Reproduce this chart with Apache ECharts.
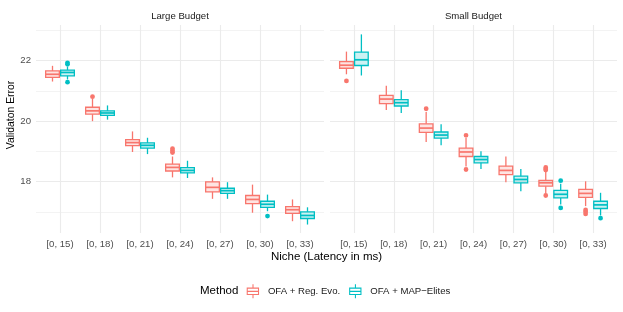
<!DOCTYPE html>
<html><head><meta charset="utf-8">
<script src="https://cdn.jsdelivr.net/npm/echarts@6/dist/echarts.min.js"></script>
<style>html,body{margin:0;padding:0;background:#fff}#c{width:623px;height:312px}</style>
</head><body><div id="c"></div>
<script>
const categories = ['[0, 15)','[0, 18)','[0, 21)','[0, 24)','[0, 27)','[0, 30)','[0, 33)'];
const panels = ['Large Budget','Small Budget'];
const methods = ['OFA + Reg. Evo.','OFA + MAP\u2212Elites'];
const colors = ['#F8766D','#00BFC4'];
const fills = ['rgba(248,118,109,0.2)','rgba(0,191,196,0.2)'];
const yTicks = [18,20,22];
const yMinor = [17,19,21,23];
const yMin = 16.3, yMax = 23.18;

// each row: [lower whisker, Q1, median, Q3, upper whisker]
const largeReg = [
  [21.31,21.45,21.55,21.66,21.83],
  [20.00,20.23,20.34,20.46,20.74],
  [18.98,19.19,19.29,19.39,19.66],
  [18.14,18.35,18.47,18.58,18.83],
  [17.43,17.66,17.81,17.99,18.14],
  [16.97,17.27,17.41,17.54,17.90],
  [16.69,16.95,17.07,17.17,17.41]
];
const largeMap = [
  [21.38,21.50,21.61,21.69,21.80],
  [20.05,20.19,20.27,20.34,20.52],
  [18.91,19.11,19.20,19.28,19.45],
  [18.12,18.29,18.37,18.46,18.69],
  [17.43,17.61,17.70,17.78,17.98],
  [17.02,17.15,17.25,17.35,17.57],
  [16.58,16.78,16.88,17.00,17.15]
];
const smallReg = [
  [21.55,21.75,21.85,21.97,22.30],
  [20.37,20.58,20.73,20.85,21.17],
  [19.31,19.63,19.77,19.91,20.30],
  [18.50,18.83,18.98,19.11,19.44],
  [17.98,18.23,18.37,18.51,18.83],
  [17.61,17.85,17.96,18.04,18.34],
  [17.19,17.48,17.61,17.74,18.01]
];
const smallMap = [
  [21.51,21.84,22.03,22.28,22.87],
  [20.27,20.50,20.61,20.71,21.02],
  [19.20,19.44,19.54,19.64,19.90],
  [18.42,18.62,18.73,18.83,19.00],
  [17.68,17.96,18.07,18.18,18.42],
  [17.24,17.46,17.58,17.71,17.93],
  [16.88,17.11,17.23,17.35,17.63]
];
// outliers: [category index, value]
const largeRegOut = [[1,20.81],[3,19.09],[3,19.02],[3,18.96]];
const largeMapOut = [[0,21.93],[0,21.88],[0,21.29],[5,16.86]];
const smallRegOut = [[0,21.33],[2,20.41],[3,19.53],[3,18.40],[5,18.47],[5,18.42],[5,18.38],[5,17.54],[6,17.06],[6,17.00],[6,16.93]];
const smallMapOut = [[5,18.03],[5,17.13],[6,16.79]];

const FONT = '"Liberation Sans", Arial, Helvetica, sans-serif';
const BOXW = 0.375;
const catIdx = categories.map((c,i)=>i);

function boxRender(color, fill, offset) {
  return function (params, api) {
    const x = api.value(0) + offset;
    const lo = api.coord([x, api.value(1)]);
    const q1 = api.coord([x, api.value(2)]);
    const md = api.coord([x, api.value(3)]);
    const q3 = api.coord([x, api.value(4)]);
    const hi = api.coord([x, api.value(5)]);
    const w = api.size([BOXW, 0])[0];
    const cx = md[0];
    const ls = {stroke: color, lineWidth: 1.3, fill: null};
    return {type: 'group', children: [
      {type: 'line', shape: {x1: cx, y1: q3[1], x2: cx, y2: hi[1]}, style: ls},
      {type: 'line', shape: {x1: cx, y1: q1[1], x2: cx, y2: lo[1]}, style: ls},
      {type: 'rect', shape: {x: cx - w/2 + 0.65, y: q3[1], width: w - 1.3, height: q1[1] - q3[1]},
        style: {fill: fill, stroke: color, lineWidth: 1.3}},
      {type: 'line', shape: {x1: cx - w/2 + 0.65, y1: md[1], x2: cx + w/2 - 0.65, y2: md[1]},
        style: {stroke: color, lineWidth: 1.7, fill: null}}
    ]};
  };
}
function outRender(color, offset) {
  return function (params, api) {
    const p = api.coord([api.value(0) + offset, api.value(1)]);
    return {type: 'circle', shape: {cx: p[0], cy: p[1], r: 2.4}, style: {fill: color}};
  };
}
function boxData(arr) { return arr.map((r, i) => [i].concat(r)); }

const boxSets = [[largeReg, largeMap], [smallReg, smallMap]];
const outSets = [[largeRegOut, largeMapOut], [smallRegOut, smallMapOut]];
const offsets = [-BOXW/2, BOXW/2];

const series = [];
for (let p = 0; p < 2; p++) {
  for (let m = 0; m < 2; m++) {
    series.push({
      type: 'custom', name: methods[m], xAxisIndex: p, yAxisIndex: p*2,
      itemStyle: {color: colors[m]},
      renderItem: boxRender(colors[m], fills[m], offsets[m]),
      encode: {x: 0, y: [1,2,3,4,5]},
      data: boxData(boxSets[p][m]), animation: false
    });
    series.push({
      type: 'custom', name: methods[m], xAxisIndex: p, yAxisIndex: p*2,
      itemStyle: {color: colors[m]},
      renderItem: outRender(colors[m], offsets[m]),
      encode: {x: 0, y: 1},
      data: outSets[p][m], animation: false
    });
  }
}

const grids = [
  {left: 36, top: 25, width: 288, height: 208},
  {left: 330, top: 25, width: 287, height: 208}
];
const xAxes = [0,1].map(p => ({
  gridIndex: p, type: 'value', min: -0.6, max: 6.6,
  axisLine: {show: false},
  axisTick: {show: false, customValues: catIdx},
  axisLabel: {customValues: catIdx, formatter: v => categories[Math.round(v)],
    color: '#4d4d4d', fontSize: 9.6, fontFamily: FONT, margin: 6},
  splitLine: {show: true, lineStyle: {color: '#ebebeb', width: 1.1}}
}));
const yAxes = [];
[0,1].forEach(p => {
  yAxes.push({
    gridIndex: p, type: 'value', min: yMin, max: yMax,
    axisLine: {show: false},
    axisTick: {show: false, customValues: yTicks},
    axisLabel: {show: p === 0, customValues: yTicks, color: '#4d4d4d', fontSize: 9.6, fontFamily: FONT, margin: 5},
    splitLine: {show: true, lineStyle: {color: '#ebebeb', width: 1.1}}
  });
  yAxes.push({
    gridIndex: p, type: 'value', min: yMin, max: yMax, position: 'left',
    axisLine: {show: false},
    axisTick: {show: false, customValues: yMinor},
    axisLabel: {show: false, customValues: yMinor},
    splitLine: {show: true, lineStyle: {color: '#f0f0f0', width: 0.8}}
  });
});

const iconPath = 'path://M70 0H83V40H70Z M0 40H150V130H0Z M13 53V117H137V53Z M13 79H137V92H13Z M70 130H83V170H70Z';

const option = {
  animation: false,
  backgroundColor: '#ffffff',
  grid: grids,
  xAxis: xAxes,
  yAxis: yAxes,
  legend: {
    left: 246.7, top: 284.3, padding: 0, itemWidth: 15, itemHeight: 14, itemGap: 9,
    data: methods.map((n, i) => ({name: n, icon: iconPath, itemStyle: {color: colors[i], borderWidth: 0}})),
    textStyle: {fontSize: 9.6, fontFamily: FONT, color: '#1a1a1a', padding: [0, 0, 0, 2.5]}
  },
  graphic: [
    {type: 'text', x: 180, y: 16, style: {text: panels[0], fontSize: 9.6, fontFamily: FONT, fill: '#1a1a1a', textAlign: 'center', textVerticalAlign: 'middle'}},
    {type: 'text', x: 473.5, y: 16, style: {text: panels[1], fontSize: 9.6, fontFamily: FONT, fill: '#1a1a1a', textAlign: 'center', textVerticalAlign: 'middle'}},
    {type: 'text', x: 326.5, y: 257, style: {text: 'Niche (Latency in ms)', fontSize: 11.5, fontFamily: FONT, fill: '#000', textAlign: 'center', textVerticalAlign: 'middle'}},
    {type: 'text', x: 11.5, y: 115, rotation: Math.PI/2, style: {text: 'Validaton Error', fontSize: 10.4, fontFamily: FONT, fill: '#000', textAlign: 'center', textVerticalAlign: 'middle'}},
    {type: 'text', x: 200, y: 291.3, style: {text: 'Method', fontSize: 11.5, fontFamily: FONT, fill: '#000', textAlign: 'left', textVerticalAlign: 'middle'}}
  ],
  series: series
};
const chart = echarts.init(document.getElementById('c'), null, {renderer: 'canvas'});
chart.setOption(option);
</script>
</body></html>
